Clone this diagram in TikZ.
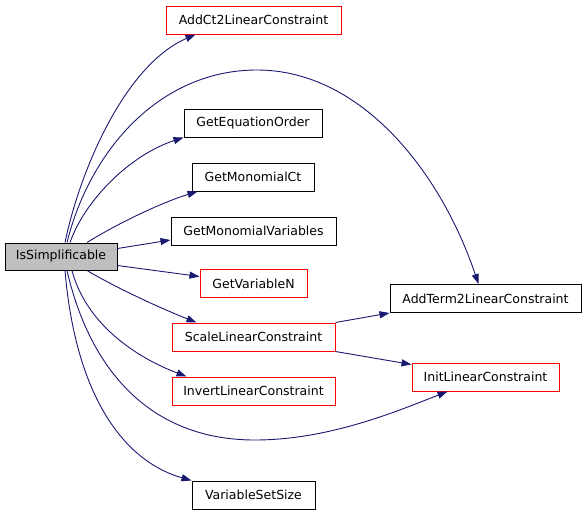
\documentclass[tikz,border=0pt]{standalone}
\usepackage{fontspec}
\setmainfont{DejaVu Sans}
\usetikzlibrary{arrows.meta}
\definecolor{edgeblue}{RGB}{25,25,112}
\definecolor{rootgray}{RGB}{191,191,191}
\tikzset{
  fn/.style={draw=black, line width=1pt, fill=white, minimum height=28pt, inner sep=0pt, font=\fontsize{12.5}{14}\selectfont},
  fnred/.style={fn, draw=red},
  fnroot/.style={fn, fill=rootgray},
  call/.style={draw=edgeblue, line width=0.9pt, -{Triangle[length=10pt,width=7pt]}, fill=none}
}
\begin{document}
\begin{tikzpicture}[x=1pt,y=-1pt]
\useasboundingbox (0,0) rectangle (587,515);
\node[fnroot, minimum width=112pt, minimum height=27pt] (iss) at (61,256.5) {IsSimplificable};
\node[fnred, minimum width=175pt] (addct) at (253.5,20) {AddCt2LinearConstraint};
\node[fn, minimum width=138pt] (geteq) at (253,123) {GetEquationOrder};
\node[fn, minimum width=122pt] (getmc) at (253,177) {GetMonomialCt};
\node[fn, minimum width=165pt] (getmv) at (253.5,231) {GetMonomialVariables};
\node[fnred, minimum width=107pt] (getvn) at (253.5,283.5) {GetVariableN};
\node[fnred, minimum width=163pt] (scale) at (253.5,337) {ScaleLinearConstraint};
\node[fnred, minimum width=163pt] (invert) at (253.5,391) {InvertLinearConstraint};
\node[fn, minimum width=123pt] (vss) at (253.5,495) {VariableSetSize};
\node[fn, minimum width=191pt] (addterm) at (485.5,298.5) {AddTerm2LinearConstraint};
\node[fnred, minimum width=147pt] (init) at (485.5,377) {InitLinearConstraint};

\coordinate (arctop) at (257,70);
\coordinate (arcbot) at (255,440);

\draw[call] ([xshift=4pt]iss.north) .. controls (80,170) and (125,65) .. ([xshift=30pt]addct.south west);
\draw[call] ([xshift=6pt]iss.north) .. controls (90,150) and (160,70) .. (arctop)
   .. controls (360,70) and (440,170) .. ([xshift=-7pt]addterm.north);
\draw[call] ([xshift=9pt]iss.north) .. controls (85,200) and (130,155) .. (geteq.south west);
\draw[call] ([xshift=26pt]iss.north) .. controls (115,225) and (160,203) .. ([xshift=6pt]getmc.south west);
\draw[call] ([yshift=8pt]iss.east) -- ([yshift=-9pt]getmv.west);
\draw[call] ([yshift=-9pt]iss.east) -- ([yshift=7pt]getvn.west);
\draw[call] ([xshift=26pt]iss.south) .. controls (120,290) and (165,310) .. ([xshift=25pt]scale.north west);
\draw[call] ([xshift=11pt]iss.south) .. controls (85,320) and (130,355) .. ([xshift=15pt]invert.north west);
\draw[call] ([xshift=6pt]iss.south) .. controls (90,370) and (150,440) .. (arcbot)
   .. controls (330,440) and (400,410) .. ([xshift=-38pt]init.south);
\draw[call] ([xshift=4pt]iss.south) .. controls (75,390) and (120,460) .. (vss.north west);
\draw[call] (scale.north east) -- (addterm.south west);
\draw[call] (scale.south east) -- ([yshift=-2pt]init.north west);
\end{tikzpicture}
\end{document}
